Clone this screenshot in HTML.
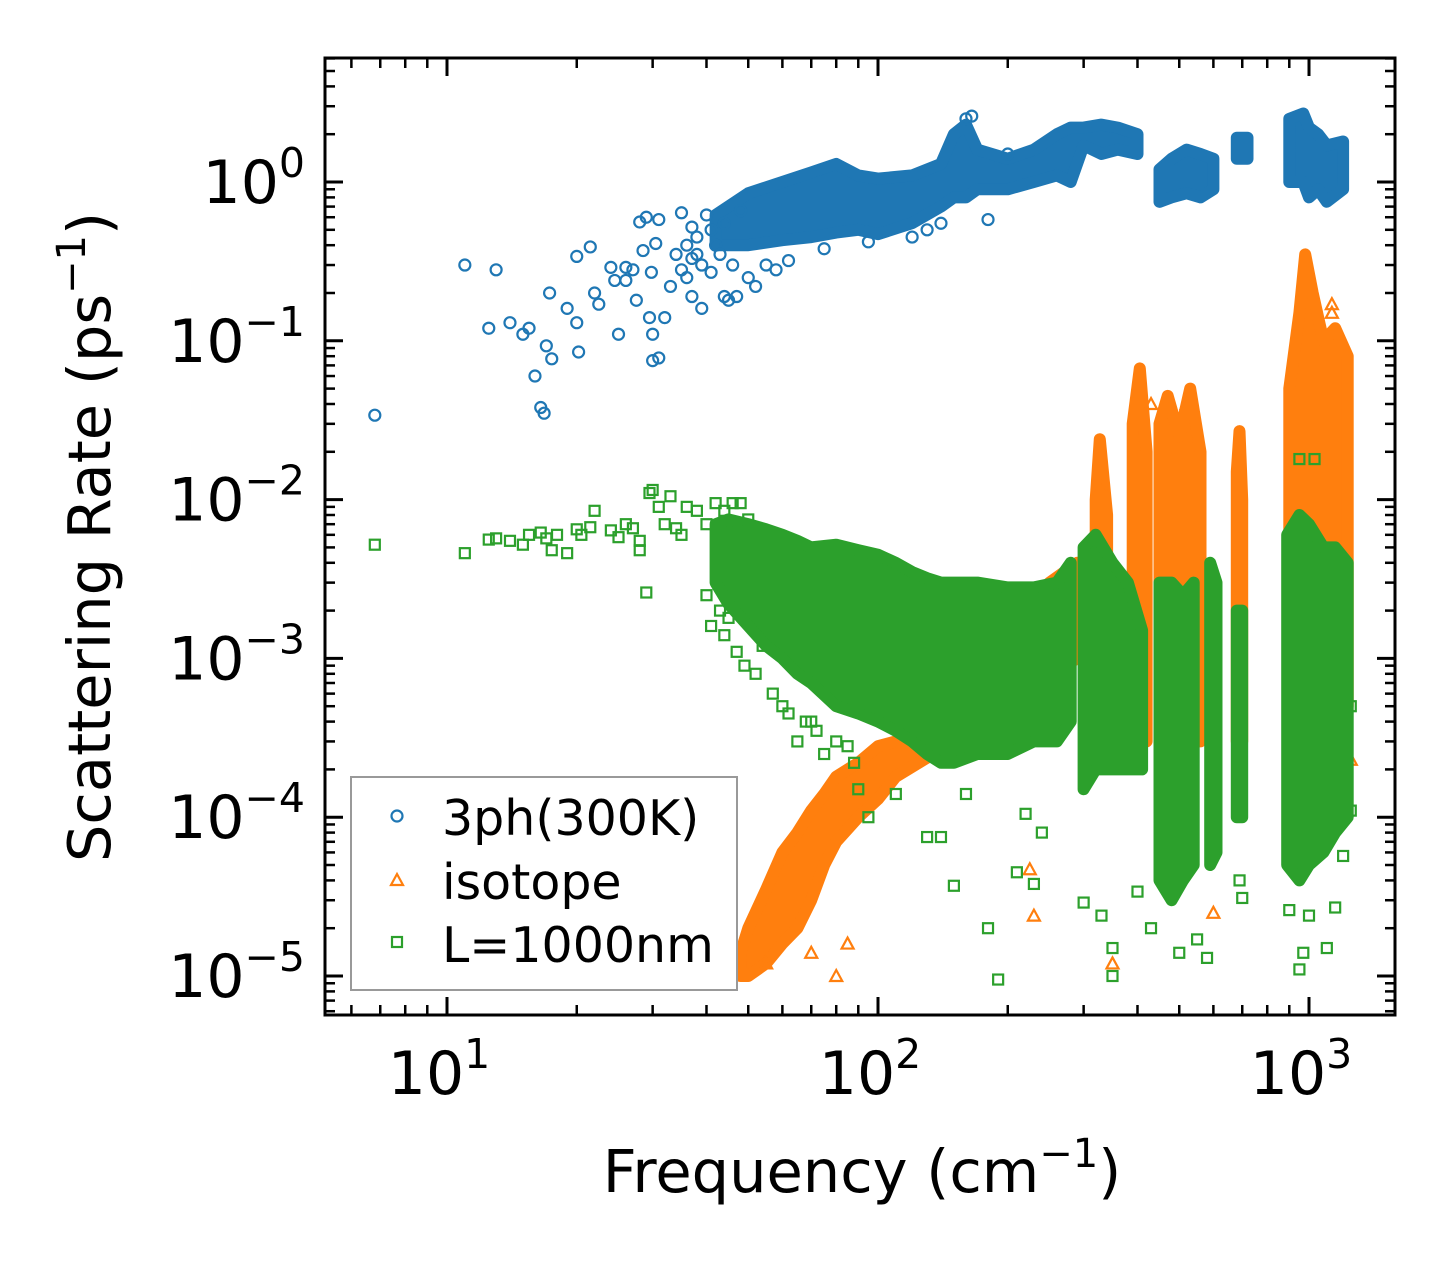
<!DOCTYPE html>
<html><head><meta charset="utf-8"><style>
body{margin:0;background:#fff}
svg text{font-family:"DejaVu Sans","Liberation Sans",sans-serif}
</style></head><body>
<svg id="chart" width="1455" height="1265" viewBox="0 0 1455 1265" xmlns="http://www.w3.org/2000/svg">
<defs><clipPath id="plotclip"><rect x="325" y="58" width="1070" height="957"/></clipPath></defs>
<rect width="1455" height="1265" fill="#fff"/>
<g id="marks" clip-path="url(#plotclip)"></g>
<g id="axes"></g>
<rect x="325" y="58" width="1070" height="957" fill="none" stroke="#000" stroke-width="3"/>
<text x="862" y="1192" font-size="59" text-anchor="middle">Frequency (cm<tspan font-size="40" dy="-25">−1</tspan><tspan dy="25">)</tspan></text>
<text transform="translate(110,537) rotate(-90)" font-size="59" text-anchor="middle">Scattering Rate (ps<tspan font-size="40" dy="-25">−1</tspan><tspan dy="25">)</tspan></text>
<g>
<rect x="351" y="777" width="386" height="213" fill="#fff" stroke="#999" stroke-width="2"/>
<g><circle cx="397" cy="816" r="5.5" fill="none" stroke="#1f77b4" stroke-width="2.2"/><text x="442" y="835" font-size="49">3ph(300K)</text></g>
<g><polygon points="397,874 403,885 391,885" fill="none" stroke="#ff7f0e" stroke-width="2.2"/><text x="442" y="899" font-size="49">isotope</text></g>
<g><rect x="392" y="937" width="10" height="10" fill="none" stroke="#2ca02c" stroke-width="2.2"/><text x="442" y="962" font-size="49">L=1000nm</text></g>
</g>
</svg>
<script>
// ---- data (frequency cm^-1, rate ps^-1) ----
const blueF=[6.8,11,12.5,13,14,15,15.5,16,16.5,16.8,17,17.3,17.5,19,20,20,20.2,21.5,22,22.5,24,24.5,25,26,26,27,27.5,28,28.5,29,29.5,30,30,31,31,30.5,29.8,32,33,34,35,35,36,37,37,38,39,40,41,42,44,45,47,48,50,52,38,39,41,43,44,46,36,37,55,58,62,75,95,130,160,165,200,180,120,140];
const blueR=[0.034,0.3,0.12,0.28,0.13,0.11,0.12,0.06,0.038,0.035,0.093,0.2,0.077,0.16,0.13,0.34,0.085,0.39,0.2,0.17,0.29,0.24,0.11,0.24,0.29,0.28,0.18,0.56,0.37,0.6,0.14,0.11,0.075,0.078,0.58,0.41,0.27,0.14,0.22,0.35,0.64,0.28,0.25,0.52,0.19,0.35,0.16,0.62,0.27,0.4,0.19,0.18,0.19,0.66,0.25,0.22,0.45,0.3,0.5,0.35,0.55,0.3,0.4,0.33,0.3,0.28,0.32,0.38,0.42,0.5,2.5,2.6,1.5,0.58,0.45,0.55];
// dense clusters: each segment = list of [freq, low, high]
const blueBands=[
 [[42,0.4,0.62],[50,0.4,0.85],[60,0.43,1.0],[70,0.45,1.15],[80,0.48,1.3],[90,0.5,1.1],[100,0.47,1.05],[120,0.55,1.1],[140,0.7,1.3],[150,0.8,2.0],[160,0.8,2.3],[170,0.9,1.6],[200,0.9,1.4],[230,1.0,1.6],[260,1.1,2.0],[280,1.0,2.2],[300,1.7,2.2],[330,1.5,2.3],[360,1.6,2.2],[400,1.5,2.0]],
 [[450,0.75,1.2],[480,0.8,1.4],[520,0.85,1.6],[560,0.8,1.5],[600,0.9,1.4]],
 [[680,1.4,1.9],[720,1.4,1.9]],
 [[900,1.0,2.5],[970,1.0,2.7],[1000,0.8,2.2],[1050,0.9,2.0],[1100,0.75,1.7],[1200,0.9,1.8]]
];
const orangeF=[55,70,80,85,225,230,350,600,950,1250,1130,1130,330,430,520];
const orangeR=[0.000012,0.000014,0.00001,0.000016,0.000047,0.000024,0.000012,0.000025,0.00023,0.00023,0.17,0.15,0.012,0.04,0.04];
const orangeBands=[
 [[48,0.00001,0.000014],[50,0.00001,0.00002],[55,0.000012,0.000035],[60,0.000016,0.00006],[65,0.00002,0.00008],[70,0.00003,0.00011],[75,0.00005,0.00014],[80,0.00007,0.00018],[90,0.0001,0.00022],[100,0.00013,0.00028],[110,0.00018,0.0003],[150,0.0003,0.0008],[200,0.0005,0.0015],[250,0.0008,0.003],[290,0.001,0.004]],
 [[320,0.0003,0.01],[327,0.0003,0.024],[340,0.0003,0.008]],
 [[390,0.0003,0.03],[405,0.0003,0.067],[420,0.0003,0.02]],
 [[450,0.0003,0.03],[470,0.0003,0.045],[500,0.0003,0.025],[530,0.0003,0.05],[560,0.0003,0.02]],
 [[680,0.0003,0.015],[690,0.0003,0.027],[700,0.0003,0.01]],
 [[900,0.0005,0.05],[950,0.0005,0.15],[980,0.0005,0.35],[1020,0.0005,0.2],[1080,0.0005,0.1],[1150,0.0005,0.12],[1230,0.0005,0.08]]
];
const greenF=[6.8,11,12.5,13,14,15,15.5,16.5,17,17.5,18,19,20,20.5,21.5,22,24,25,26,27,28,28,29,29.5,30,31,32,33,34,35,36,38,40,42,44,46,48,50,90,95,110,130,140,150,160,180,190,210,220,230,240,300,330,350,350,400,430,500,550,580,690,700,900,950,970,1000,1100,1150,1200,1250,1250,1030,950,60,65,70,75,80,40,41,43,44,45,47,49,52,54,57,62,68,72,85,88];
const greenR=[0.0052,0.0046,0.0056,0.0057,0.0055,0.0052,0.006,0.0062,0.0057,0.0048,0.006,0.0046,0.0065,0.006,0.0067,0.0085,0.0064,0.0058,0.007,0.0066,0.0048,0.0055,0.0026,0.011,0.0115,0.009,0.007,0.0105,0.0066,0.006,0.009,0.0085,0.007,0.0095,0.0085,0.0095,0.0095,0.0075,0.00015,0.0001,0.00014,0.000075,0.000075,0.000037,0.00014,0.00002,0.0000095,0.000045,0.000105,0.000038,0.00008,0.000029,0.000024,0.00001,0.000015,0.000034,0.00002,0.000014,0.000017,0.000013,0.00004,0.000031,0.000026,0.000011,0.000014,0.000024,0.000015,0.000027,0.000057,0.00011,0.0005,0.018,0.018,0.0005,0.0003,0.0004,0.00025,0.0003,0.0025,0.0016,0.002,0.0014,0.0018,0.0011,0.0009,0.0008,0.0012,0.0006,0.00045,0.0004,0.00035,0.00028,0.00022];
const greenBands=[
 [[42,0.003,0.007],[45,0.0022,0.0075],[50,0.0016,0.007],[55,0.0012,0.0065],[60,0.001,0.006],[65,0.0008,0.0055],[70,0.0007,0.005],[80,0.0005,0.0052],[90,0.00045,0.0048],[100,0.0004,0.0045],[110,0.00035,0.004],[120,0.0003,0.0035],[130,0.00025,0.0032],[140,0.00022,0.003],[150,0.00022,0.003],[170,0.00025,0.003],[200,0.00025,0.0028],[230,0.0003,0.0028],[260,0.0003,0.003],[280,0.0004,0.004]],
 [[300,0.00015,0.005],[320,0.0002,0.006],[350,0.0002,0.004],[380,0.0002,0.003],[410,0.0002,0.0015]],
 [[450,0.00004,0.003],[480,0.00003,0.003],[510,0.00004,0.0025],[540,0.00005,0.003]],
 [[590,0.00005,0.004],[610,0.00006,0.003]],
 [[680,0.0001,0.002],[700,0.0001,0.002]],
 [[890,0.00005,0.006],[950,0.00004,0.008],[1000,0.00005,0.007],[1080,0.00006,0.005],[1150,0.00008,0.005],[1230,0.0001,0.004]]
];
const xMajor=[10,100,1000];
const xMajorLabels=["1","2","3"];
const yMajor=[1e-5,1e-4,1e-3,1e-2,1e-1,1];
const yMajorLabels=["−5","−4","−3","−2","−1","0"];

// ---- scales ----
function X(f){return 447+431*(Math.log10(f)-1);}
function Y(r){return 182-158.8*Math.log10(r);}
const NS="http://www.w3.org/2000/svg";
const marks=document.getElementById('marks');
const axes=document.getElementById('axes');
function mk(tag,attrs,parent){const e=document.createElementNS(NS,tag);for(const k in attrs)e.setAttribute(k,attrs[k]);parent.appendChild(e);return e;}

function drawBands(bands,color,name){
  bands.forEach((seg,i)=>{
    let pts=seg.map(p=>X(p[0]).toFixed(1)+','+Y(p[2]).toFixed(1));
    pts=pts.concat(seg.slice().reverse().map(p=>X(p[0]).toFixed(1)+','+Y(p[1]).toFixed(1)));
    const e=mk('polygon',{points:pts.join(' '),fill:color,stroke:color,'stroke-width':12,'stroke-linejoin':'round'},marks);
    
    
  });
}
function drawPoints(F,R,color,shape,name){
  const g=mk('g',{},marks);
  
  
  F.forEach((f,i)=>{
    const x=X(f),y=Y(R[i]);let e;
    if(shape==='circle')e=mk('circle',{cx:x,cy:y,r:5.5,fill:'none',stroke:color,'stroke-width':2.2},g);
    else if(shape==='tri')e=mk('polygon',{points:`${x},${y-6} ${x+6},${y+5} ${x-6},${y+5}`,fill:'none',stroke:color,'stroke-width':2.2},g);
    else e=mk('rect',{x:x-5,y:y-5,width:10,height:10,fill:'none',stroke:color,'stroke-width':2.2},g);
    
    
  });
}
drawBands(blueBands,'#1f77b4','3ph');
drawPoints(blueF,blueR,'#1f77b4','circle','3ph-points');
drawBands(orangeBands,'#ff7f0e','isotope');
drawPoints(orangeF,orangeR,'#ff7f0e','tri','isotope-points');
drawBands(greenBands,'#2ca02c','l1000nm');
drawPoints(greenF,greenR,'#2ca02c','square','l1000nm-points');

// ---- ticks ----
function tick(x1,y1,x2,y2,w){const e=mk('line',{x1,y1,x2,y2,stroke:'#000','stroke-width':w},axes);}
for(let d=0;d<4;d++){for(let m=1;m<10;m++){const f=m*Math.pow(10,d);if(f<5.2||f>1580)continue;const x=X(f);const L=m===1?18:10;const w=m===1?3:2.5;tick(x,1015,x,1015-L,w);tick(x,58,x,58+L,w);}}
for(let d=-6;d<1;d++){for(let m=1;m<10;m++){const r=m*Math.pow(10,d);if(r<5.7e-6||r>6)continue;const y=Y(r);const L=m===1?18:10;const w=m===1?3:2.5;tick(325,y,325+L,y,w);tick(1395,y,1395-L,y,w);}}
xMajor.forEach((f,i)=>{
  const t=mk('text',{x:X(f)-8,y:1094,'font-size':60,'text-anchor':'middle'},axes);
  t.textContent='10';
  const s=mk('tspan',{'font-size':41,dy:-26},t);s.textContent=xMajorLabels[i];
  
  
});
yMajor.forEach((r,i)=>{
  const t=mk('text',{x:305,y:Y(r)+21,'font-size':60,'text-anchor':'end'},axes);
  t.textContent='10';
  const s=mk('tspan',{'font-size':41,dy:-26},t);s.textContent=yMajorLabels[i];
  
  
});
</script>
</body></html>
